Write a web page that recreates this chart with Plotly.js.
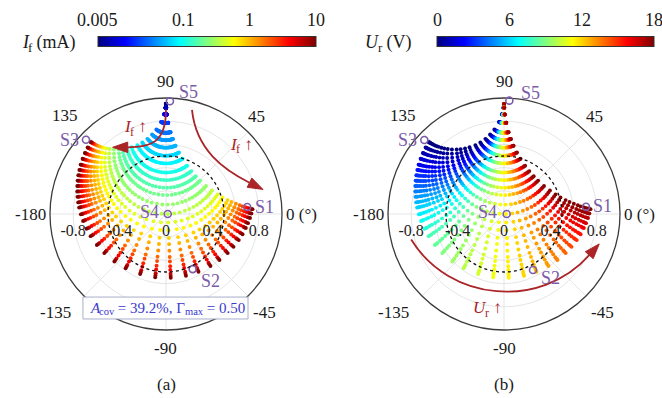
<!DOCTYPE html>
<html>
<head>
<meta charset="utf-8">
<script src="https://cdn.plot.ly/plotly-3.0.1.min.js"></script>
<style>
  html, body { margin: 0; padding: 0; background: #ffffff; }
  #chart { width: 662px; height: 398px; }
</style>
</head>
<body>
<div id="chart"></div>
<script>
// Bias states of the reconfigurable load
const ifLevels = [0.005, 0.008, 0.013, 0.02, 0.03, 0.04, 0.05, 0.065, 0.08, 0.1, 0.13, 0.16, 0.2, 0.26,
                  0.35, 0.46, 0.6, 0.8, 1, 1.35, 1.8, 2.3, 3, 4, 5.5, 7.5, 10];            // PIN forward current, mA
const urLevels = [0, 1, 2, 3, 4, 5, 6, 7, 8, 9, 10, 11, 12, 13, 14, 15, 16, 17, 18];      // varactor reverse voltage, V
const urHalfLevels = [0.5, 1.5, 2.5, 3.5, 4.5, 5.5, 6.5, 7.5, 8.5, 9.5, 10.5, 11.5, 12.5, 13.5, 14.5, 15.5, 16.5, 17.5];

// Reflection coefficient at whole-volt Ur, real part: one row per If level, one column per Ur
const gammaRe = [
  [-0.001,-0.001,-0.001,-0.001,-0.001,-0.001,-0.001,0,0,0,0,0,0,0,0,0,0,0,0.001],
  [-0.005,-0.004,-0.003,-0.003,-0.003,-0.002,-0.002,-0.002,-0.001,-0.001,-0.001,0,0,0.001,0.001,0.001,0.002,0.002,0.002],
  [-0.017,-0.015,-0.013,-0.011,-0.010,-0.009,-0.008,-0.007,-0.005,-0.004,-0.002,-0.001,0.001,0.003,0.004,0.005,0.006,0.007,0.008],
  [-0.043,-0.037,-0.032,-0.029,-0.026,-0.023,-0.020,-0.017,-0.014,-0.010,-0.006,-0.002,0.003,0.007,0.010,0.013,0.016,0.018,0.020],
  [-0.083,-0.073,-0.064,-0.057,-0.051,-0.046,-0.041,-0.035,-0.028,-0.021,-0.012,-0.003,0.006,0.014,0.021,0.026,0.032,0.036,0.040],
  [-0.120,-0.106,-0.094,-0.085,-0.076,-0.068,-0.061,-0.052,-0.042,-0.031,-0.019,-0.005,0.009,0.021,0.031,0.040,0.047,0.054,0.060],
  [-0.160,-0.144,-0.128,-0.116,-0.105,-0.094,-0.084,-0.072,-0.059,-0.044,-0.026,-0.007,0.012,0.029,0.044,0.056,0.066,0.075,0.083],
  [-0.204,-0.187,-0.169,-0.154,-0.140,-0.126,-0.114,-0.098,-0.080,-0.059,-0.036,-0.009,0.017,0.040,0.059,0.076,0.090,0.101,0.112],
  [-0.247,-0.229,-0.210,-0.193,-0.177,-0.160,-0.145,-0.126,-0.103,-0.077,-0.046,-0.012,0.022,0.051,0.077,0.097,0.115,0.130,0.143],
  [-0.297,-0.280,-0.260,-0.241,-0.222,-0.204,-0.185,-0.161,-0.134,-0.099,-0.060,-0.015,0.029,0.067,0.099,0.126,0.148,0.166,0.182],
  [-0.336,-0.322,-0.303,-0.283,-0.263,-0.242,-0.221,-0.194,-0.161,-0.121,-0.073,-0.019,0.035,0.082,0.121,0.152,0.179,0.200,0.218],
  [-0.374,-0.363,-0.345,-0.326,-0.305,-0.283,-0.260,-0.229,-0.192,-0.144,-0.088,-0.023,0.042,0.098,0.144,0.181,0.212,0.236,0.256],
  [-0.408,-0.401,-0.385,-0.367,-0.346,-0.322,-0.297,-0.264,-0.222,-0.168,-0.103,-0.027,0.050,0.114,0.168,0.210,0.245,0.271,0.294],
  [-0.449,-0.447,-0.436,-0.420,-0.399,-0.375,-0.349,-0.312,-0.265,-0.202,-0.124,-0.032,0.060,0.138,0.202,0.251,0.291,0.320,0.345],
  [-0.485,-0.490,-0.484,-0.470,-0.451,-0.428,-0.401,-0.361,-0.309,-0.237,-0.147,-0.038,0.071,0.163,0.237,0.294,0.338,0.370,0.396],
  [-0.515,-0.526,-0.525,-0.515,-0.498,-0.475,-0.448,-0.408,-0.351,-0.272,-0.169,-0.044,0.082,0.188,0.272,0.334,0.383,0.417,0.444],
  [-0.539,-0.556,-0.560,-0.553,-0.539,-0.518,-0.491,-0.450,-0.390,-0.304,-0.191,-0.050,0.093,0.211,0.304,0.372,0.424,0.459,0.487],
  [-0.562,-0.585,-0.594,-0.591,-0.580,-0.561,-0.535,-0.493,-0.431,-0.339,-0.214,-0.056,0.104,0.237,0.339,0.412,0.466,0.503,0.531],
  [-0.578,-0.605,-0.619,-0.619,-0.611,-0.594,-0.569,-0.528,-0.464,-0.367,-0.232,-0.061,0.114,0.257,0.367,0.444,0.500,0.537,0.565],
  [-0.595,-0.627,-0.645,-0.649,-0.643,-0.629,-0.606,-0.565,-0.500,-0.398,-0.254,-0.067,0.124,0.280,0.398,0.479,0.537,0.575,0.602],
  [-0.609,-0.645,-0.667,-0.676,-0.673,-0.661,-0.640,-0.600,-0.534,-0.428,-0.274,-0.073,0.135,0.303,0.428,0.513,0.572,0.609,0.636],
  [-0.618,-0.658,-0.683,-0.694,-0.694,-0.683,-0.664,-0.625,-0.559,-0.449,-0.289,-0.077,0.142,0.319,0.449,0.537,0.597,0.634,0.660],
  [-0.628,-0.670,-0.699,-0.712,-0.715,-0.707,-0.689,-0.651,-0.585,-0.473,-0.305,-0.081,0.151,0.337,0.473,0.562,0.623,0.660,0.685],
  [-0.635,-0.680,-0.711,-0.727,-0.731,-0.725,-0.708,-0.671,-0.605,-0.491,-0.319,-0.085,0.157,0.351,0.491,0.583,0.644,0.680,0.705],
  [-0.642,-0.690,-0.723,-0.741,-0.748,-0.744,-0.728,-0.693,-0.627,-0.511,-0.333,-0.089,0.165,0.366,0.511,0.604,0.666,0.702,0.725],
  [-0.646,-0.695,-0.730,-0.749,-0.757,-0.753,-0.739,-0.704,-0.638,-0.521,-0.340,-0.091,0.168,0.374,0.521,0.615,0.677,0.713,0.735],
  [-0.649,-0.699,-0.736,-0.756,-0.765,-0.763,-0.749,-0.715,-0.650,-0.532,-0.348,-0.093,0.172,0.383,0.532,0.627,0.688,0.724,0.746]
];

// Reflection coefficient at whole-volt Ur, imaginary part (same layout)
const gammaIm = [
  [0.948,0.948,0.948,0.948,0.948,0.948,0.948,0.948,0.948,0.948,0.948,0.948,0.948,0.948,0.948,0.948,0.948,0.948,0.948],
  [0.917,0.917,0.917,0.917,0.917,0.917,0.917,0.917,0.917,0.917,0.917,0.917,0.917,0.917,0.917,0.917,0.917,0.917,0.917],
  [0.860,0.859,0.859,0.859,0.858,0.858,0.858,0.858,0.858,0.858,0.858,0.858,0.858,0.858,0.858,0.858,0.858,0.858,0.858],
  [0.794,0.791,0.790,0.788,0.787,0.787,0.786,0.786,0.785,0.785,0.784,0.784,0.784,0.784,0.785,0.785,0.785,0.786,0.786],
  [0.728,0.721,0.716,0.712,0.710,0.708,0.706,0.704,0.703,0.702,0.701,0.700,0.700,0.701,0.702,0.703,0.704,0.705,0.706],
  [0.685,0.673,0.664,0.658,0.654,0.650,0.647,0.644,0.641,0.639,0.637,0.636,0.636,0.637,0.639,0.641,0.643,0.645,0.647],
  [0.648,0.631,0.617,0.608,0.601,0.595,0.590,0.585,0.580,0.576,0.573,0.572,0.572,0.574,0.576,0.579,0.583,0.586,0.589],
  [0.617,0.592,0.572,0.558,0.547,0.538,0.531,0.523,0.516,0.509,0.505,0.502,0.503,0.505,0.509,0.514,0.520,0.525,0.530],
  [0.594,0.561,0.535,0.516,0.501,0.488,0.477,0.466,0.456,0.447,0.440,0.436,0.436,0.441,0.447,0.454,0.461,0.469,0.476],
  [0.575,0.533,0.498,0.473,0.451,0.434,0.419,0.403,0.388,0.374,0.364,0.358,0.359,0.365,0.374,0.384,0.396,0.406,0.417],
  [0.565,0.515,0.473,0.441,0.415,0.392,0.373,0.352,0.333,0.314,0.300,0.293,0.294,0.302,0.314,0.328,0.343,0.356,0.370],
  [0.559,0.501,0.452,0.414,0.382,0.354,0.330,0.304,0.279,0.255,0.237,0.227,0.229,0.239,0.255,0.273,0.291,0.309,0.326],
  [0.556,0.492,0.436,0.393,0.354,0.321,0.292,0.260,0.229,0.200,0.176,0.164,0.166,0.180,0.200,0.222,0.245,0.267,0.288],
  [0.556,0.485,0.421,0.370,0.324,0.283,0.247,0.207,0.167,0.129,0.098,0.082,0.085,0.103,0.129,0.158,0.188,0.215,0.242],
  [0.560,0.483,0.411,0.353,0.299,0.251,0.208,0.159,0.110,0.061,0.023,0.002,0.005,0.028,0.061,0.098,0.135,0.169,0.202],
  [0.565,0.484,0.406,0.341,0.281,0.226,0.176,0.119,0.060,0.002,-0.046,-0.072,-0.067,-0.039,0.002,0.046,0.091,0.131,0.169],
  [0.571,0.486,0.404,0.334,0.268,0.207,0.151,0.086,0.018,-0.050,-0.107,-0.138,-0.132,-0.099,-0.050,0.002,0.054,0.100,0.143],
  [0.579,0.491,0.404,0.329,0.258,0.191,0.128,0.055,-0.022,-0.102,-0.168,-0.205,-0.199,-0.159,-0.102,-0.041,0.018,0.071,0.120],
  [0.584,0.495,0.405,0.327,0.252,0.180,0.113,0.033,-0.052,-0.141,-0.216,-0.258,-0.250,-0.205,-0.141,-0.073,-0.007,0.050,0.103],
  [0.591,0.500,0.407,0.326,0.247,0.171,0.098,0.011,-0.083,-0.182,-0.267,-0.315,-0.306,-0.254,-0.182,-0.107,-0.034,0.030,0.088],
  [0.598,0.505,0.410,0.327,0.243,0.163,0.086,-0.008,-0.110,-0.219,-0.314,-0.368,-0.358,-0.300,-0.219,-0.136,-0.056,0.012,0.075],
  [0.603,0.509,0.413,0.328,0.242,0.159,0.078,-0.021,-0.129,-0.246,-0.347,-0.406,-0.396,-0.332,-0.246,-0.156,-0.072,0.001,0.066],
  [0.608,0.514,0.416,0.329,0.241,0.155,0.070,-0.033,-0.148,-0.273,-0.382,-0.446,-0.435,-0.366,-0.273,-0.177,-0.087,-0.011,0.058],
  [0.612,0.518,0.419,0.330,0.241,0.152,0.065,-0.042,-0.162,-0.293,-0.410,-0.478,-0.466,-0.393,-0.293,-0.193,-0.098,-0.019,0.053],
  [0.616,0.522,0.422,0.332,0.241,0.150,0.060,-0.051,-0.177,-0.315,-0.439,-0.511,-0.498,-0.420,-0.315,-0.209,-0.110,-0.027,0.047],
  [0.618,0.524,0.424,0.333,0.241,0.149,0.058,-0.056,-0.184,-0.326,-0.453,-0.528,-0.515,-0.434,-0.326,-0.217,-0.116,-0.031,0.044],
  [0.620,0.526,0.426,0.334,0.241,0.148,0.055,-0.060,-0.191,-0.337,-0.468,-0.546,-0.532,-0.448,-0.337,-0.225,-0.121,-0.035,0.042]
];

// Reflection coefficient at half-volt Ur, real part: one row per Ur string, one value per If level
const halfRe = [
  [-0.001,-0.004,-0.016,-0.040,-0.078,-0.113,-0.151,-0.196,-0.239,-0.289,-0.330,-0.370,-0.405,-0.449,-0.489,-0.522,-0.549,-0.575,-0.594,-0.612,-0.629,-0.640,-0.651,-0.659,-0.668,-0.672,-0.676],
  [-0.001,-0.004,-0.014,-0.035,-0.068,-0.100,-0.136,-0.178,-0.220,-0.270,-0.313,-0.355,-0.394,-0.443,-0.488,-0.527,-0.559,-0.591,-0.614,-0.637,-0.658,-0.672,-0.687,-0.697,-0.708,-0.714,-0.719],
  [-0.001,-0.003,-0.012,-0.030,-0.061,-0.089,-0.122,-0.162,-0.202,-0.251,-0.293,-0.336,-0.376,-0.428,-0.478,-0.521,-0.558,-0.594,-0.620,-0.648,-0.673,-0.690,-0.707,-0.720,-0.734,-0.741,-0.747],
  [-0.001,-0.003,-0.011,-0.027,-0.054,-0.080,-0.110,-0.147,-0.185,-0.232,-0.273,-0.316,-0.357,-0.410,-0.461,-0.507,-0.547,-0.587,-0.616,-0.648,-0.676,-0.695,-0.715,-0.731,-0.746,-0.754,-0.762],
  [-0.001,-0.003,-0.009,-0.024,-0.048,-0.072,-0.099,-0.133,-0.168,-0.213,-0.253,-0.294,-0.334,-0.387,-0.440,-0.487,-0.529,-0.571,-0.603,-0.637,-0.668,-0.690,-0.712,-0.729,-0.747,-0.756,-0.765],
  [-0.001,-0.002,-0.008,-0.021,-0.043,-0.064,-0.089,-0.120,-0.152,-0.194,-0.231,-0.271,-0.310,-0.362,-0.414,-0.462,-0.505,-0.549,-0.582,-0.618,-0.651,-0.675,-0.699,-0.718,-0.737,-0.747,-0.757],
  [-0.001,-0.002,-0.007,-0.019,-0.038,-0.056,-0.078,-0.106,-0.135,-0.173,-0.207,-0.244,-0.281,-0.331,-0.381,-0.428,-0.471,-0.515,-0.549,-0.587,-0.621,-0.646,-0.671,-0.692,-0.713,-0.723,-0.734],
  [0,-0.002,-0.006,-0.015,-0.031,-0.047,-0.066,-0.089,-0.114,-0.147,-0.177,-0.210,-0.243,-0.289,-0.335,-0.380,-0.421,-0.463,-0.497,-0.534,-0.569,-0.593,-0.620,-0.641,-0.662,-0.674,-0.685],
  [0,-0.001,-0.005,-0.012,-0.024,-0.036,-0.051,-0.070,-0.090,-0.116,-0.141,-0.168,-0.195,-0.234,-0.274,-0.313,-0.349,-0.387,-0.418,-0.452,-0.484,-0.507,-0.532,-0.552,-0.573,-0.584,-0.596],
  [0,-0.001,-0.003,-0.008,-0.016,-0.025,-0.035,-0.047,-0.061,-0.080,-0.097,-0.116,-0.136,-0.163,-0.193,-0.222,-0.249,-0.278,-0.302,-0.328,-0.354,-0.373,-0.393,-0.409,-0.427,-0.436,-0.445],
  [0,0,-0.001,-0.004,-0.008,-0.011,-0.016,-0.022,-0.029,-0.038,-0.046,-0.055,-0.065,-0.078,-0.093,-0.107,-0.121,-0.136,-0.148,-0.161,-0.175,-0.185,-0.196,-0.204,-0.213,-0.218,-0.223],
  [0,0,0,0.001,0.001,0.002,0.003,0.004,0.005,0.007,0.008,0.010,0.012,0.014,0.017,0.019,0.022,0.025,0.027,0.029,0.032,0.034,0.036,0.037,0.039,0.040,0.041],
  [0,0,0.002,0.005,0.010,0.015,0.021,0.028,0.037,0.048,0.058,0.070,0.082,0.099,0.117,0.135,0.152,0.171,0.186,0.203,0.220,0.233,0.246,0.257,0.268,0.274,0.280],
  [0,0.001,0.003,0.008,0.017,0.026,0.036,0.049,0.064,0.083,0.101,0.121,0.141,0.170,0.201,0.230,0.259,0.289,0.313,0.341,0.367,0.386,0.407,0.424,0.442,0.451,0.461],
  [0,0.001,0.005,0.012,0.023,0.035,0.049,0.067,0.087,0.113,0.136,0.163,0.189,0.227,0.266,0.304,0.339,0.376,0.406,0.440,0.472,0.495,0.520,0.539,0.560,0.571,0.582],
  [0,0.001,0.006,0.014,0.029,0.043,0.061,0.083,0.106,0.137,0.166,0.197,0.228,0.271,0.316,0.359,0.399,0.440,0.473,0.510,0.544,0.569,0.595,0.615,0.637,0.648,0.660],
  [0,0.002,0.007,0.017,0.034,0.050,0.071,0.096,0.122,0.157,0.189,0.224,0.258,0.306,0.354,0.400,0.442,0.485,0.519,0.557,0.592,0.616,0.643,0.663,0.685,0.696,0.707],
  [0.001,0.002,0.007,0.019,0.038,0.057,0.079,0.107,0.136,0.174,0.209,0.246,0.283,0.333,0.383,0.431,0.474,0.518,0.552,0.589,0.623,0.648,0.673,0.694,0.714,0.725,0.736]
];

// Reflection coefficient at half-volt Ur, imaginary part (same layout)
const halfIm = [
  [0.948,0.917,0.860,0.793,0.724,0.678,0.639,0.604,0.577,0.553,0.539,0.529,0.523,0.520,0.521,0.524,0.529,0.535,0.540,0.546,0.552,0.556,0.561,0.565,0.569,0.572,0.574],
  [0.948,0.917,0.859,0.790,0.718,0.668,0.623,0.581,0.547,0.515,0.493,0.476,0.463,0.452,0.446,0.444,0.444,0.447,0.450,0.454,0.458,0.462,0.466,0.469,0.472,0.474,0.476],
  [0.948,0.917,0.859,0.789,0.714,0.661,0.612,0.565,0.525,0.485,0.456,0.432,0.414,0.394,0.381,0.373,0.368,0.366,0.366,0.367,0.368,0.370,0.373,0.375,0.377,0.379,0.380],
  [0.948,0.917,0.858,0.788,0.711,0.656,0.604,0.552,0.508,0.461,0.427,0.397,0.373,0.346,0.325,0.310,0.300,0.293,0.289,0.286,0.285,0.284,0.285,0.285,0.286,0.287,0.288],
  [0.948,0.917,0.858,0.787,0.709,0.652,0.597,0.542,0.494,0.442,0.403,0.367,0.337,0.303,0.274,0.253,0.237,0.224,0.216,0.208,0.203,0.200,0.198,0.196,0.195,0.195,0.194],
  [0.948,0.917,0.858,0.786,0.707,0.649,0.592,0.534,0.482,0.426,0.382,0.341,0.305,0.264,0.228,0.200,0.178,0.158,0.145,0.133,0.123,0.117,0.111,0.107,0.104,0.102,0.100],
  [0.948,0.917,0.858,0.786,0.705,0.646,0.587,0.527,0.471,0.410,0.362,0.316,0.275,0.226,0.182,0.146,0.117,0.091,0.072,0.053,0.038,0.028,0.018,0.011,0.004,0.000,-0.003],
  [0.948,0.917,0.858,0.785,0.704,0.643,0.582,0.519,0.461,0.395,0.342,0.290,0.244,0.186,0.133,0.088,0.050,0.014,-0.011,-0.038,-0.061,-0.077,-0.092,-0.104,-0.116,-0.122,-0.127],
  [0.948,0.917,0.858,0.785,0.702,0.640,0.578,0.512,0.451,0.380,0.322,0.266,0.213,0.146,0.084,0.029,-0.018,-0.065,-0.099,-0.136,-0.168,-0.190,-0.213,-0.231,-0.249,-0.258,-0.267],
  [0.948,0.917,0.858,0.784,0.701,0.638,0.575,0.507,0.443,0.368,0.306,0.244,0.186,0.112,0.040,-0.025,-0.082,-0.139,-0.182,-0.229,-0.272,-0.302,-0.333,-0.358,-0.383,-0.396,-0.409],
  [0.948,0.917,0.858,0.784,0.700,0.637,0.572,0.503,0.437,0.360,0.295,0.230,0.168,0.088,0.009,-0.063,-0.127,-0.192,-0.243,-0.298,-0.349,-0.385,-0.424,-0.454,-0.485,-0.502,-0.518],
  [0.948,0.917,0.858,0.784,0.700,0.636,0.572,0.502,0.436,0.358,0.292,0.226,0.163,0.081,0.000,-0.073,-0.140,-0.207,-0.260,-0.317,-0.371,-0.409,-0.450,-0.482,-0.515,-0.533,-0.550],
  [0.948,0.917,0.858,0.784,0.700,0.637,0.573,0.504,0.438,0.361,0.297,0.233,0.172,0.092,0.014,-0.056,-0.119,-0.183,-0.232,-0.285,-0.335,-0.370,-0.407,-0.436,-0.466,-0.482,-0.498],
  [0.948,0.917,0.858,0.784,0.701,0.638,0.575,0.507,0.443,0.369,0.307,0.246,0.188,0.114,0.043,-0.021,-0.077,-0.133,-0.176,-0.222,-0.263,-0.293,-0.324,-0.347,-0.372,-0.385,-0.397],
  [0.948,0.917,0.858,0.785,0.702,0.640,0.578,0.512,0.450,0.379,0.321,0.263,0.210,0.142,0.078,0.023,-0.026,-0.073,-0.109,-0.146,-0.180,-0.203,-0.227,-0.245,-0.264,-0.273,-0.283],
  [0.948,0.917,0.858,0.785,0.703,0.642,0.581,0.517,0.457,0.390,0.335,0.282,0.233,0.172,0.116,0.068,0.027,-0.012,-0.041,-0.071,-0.097,-0.115,-0.133,-0.146,-0.160,-0.167,-0.174],
  [0.948,0.917,0.858,0.785,0.704,0.644,0.584,0.522,0.465,0.400,0.349,0.300,0.255,0.201,0.151,0.110,0.076,0.044,0.020,-0.003,-0.023,-0.036,-0.050,-0.059,-0.069,-0.074,-0.079],
  [0.948,0.917,0.858,0.786,0.705,0.646,0.588,0.527,0.472,0.411,0.363,0.317,0.277,0.228,0.185,0.150,0.121,0.095,0.076,0.058,0.043,0.033,0.024,0.017,0.010,0.007,0.004]
];

// Marked states S1..S5 (real, imaginary) in each panel
const stateNames = ['S1', 'S2', 'S3', 'S4', 'S5'];
const stateReA = [0.70, 0.23, -0.69, 0.015, 0.034];
const stateImA = [0.06, -0.475, 0.64, 0.0, 0.972];
const stateReB = [0.707, 0.25, -0.687, 0.023, 0.046];
const stateImB = [0.063, -0.483, 0.638, 0.0, 0.977];

// Colour bar ticks
const ifTicks = [0.005, 0.1, 1, 10];
const ifTickText = ['0.005', '0.1', '1', '10'];
const urTicks = [0, 6, 12, 18];
const urTickText = ['0', '6', '12', '18'];

// Radial tick labels along the horizontal diameter
const radTicks = [-0.8, -0.4, 0, 0.4, 0.8];
const radTickText = ['-0.8', '-0.4', '0', '0.4', '0.8'];

// Angle labels round the rim
const angText = ['90', '45', '0 (°)', '-45', '-90', '-135', '-180', '135'];

// ---------------------------------------------------------------------------
const W = 662, H = 398;
const PX = 116;              // pixels per unit of |Γ|
const CY = 214;              // centre row of both polar frames
const CX = [166, 504];       // centre columns of the two frames
const XR = 1.35, YR = 1.3;   // half-ranges of the frames
const SERIF = 'Liberation Serif, Times New Roman, serif';
const PURPLE = '#7b5ca8';
const ARROW = 'rgb(170,36,40)';
const INK = '#1a1a1a';

const jet = [
  [0, 'rgb(0,0,128)'], [0.125, 'rgb(0,0,255)'], [0.375, 'rgb(0,255,255)'],
  [0.625, 'rgb(255,255,0)'], [0.875, 'rgb(255,0,0)'], [1, 'rgb(128,0,0)']
];

// flatten the bias grid; higher currents are drawn last
const xs = [], ys = [], cIf = [], cUr = [];
function addPoint(re, im, iv, uv) {
  xs.push(re); ys.push(im); cIf.push(Math.log10(iv)); cUr.push(uv);
}
ifLevels.forEach((iv, i) => {
  urLevels.forEach((uv, j) => addPoint(gammaRe[i][j], gammaIm[i][j], iv, uv));
  urHalfLevels.forEach((uv, k) => addPoint(halfRe[k][i], halfIm[k][i], iv, uv));
});

const ifMin = Math.log10(ifLevels[0]), ifMax = Math.log10(ifLevels[ifLevels.length - 1]);
const urMin = urLevels[0], urMax = urLevels[urLevels.length - 1];

// colour bar geometry (pixels); its labels are placed as annotations above the bar
const cbA = { x0: 98, x1: 316 };
const cbB = { x0: 437, x1: 654 };
const cbY = 42;

function colorbar(cb) {
  return {
    orientation: 'h', lenmode: 'pixels', len: cb.x1 - cb.x0, thickness: 10,
    x: (cb.x0 + cb.x1) / 2 / W, xanchor: 'center', xpad: 0, ypad: 0,
    y: (H - cbY) / H, yanchor: 'middle',
    tickmode: 'linear', tick0: 500000.5, dtick: 1000000, showticklabels: false, ticks: '',
    outlinewidth: 1, outlinecolor: '#333'
  };
}

const MS = 3.9;
const traces = [
  {
    type: 'scatter', mode: 'markers', x: xs, y: ys, xaxis: 'x', yaxis: 'y', hoverinfo: 'skip',
    marker: { size: MS, color: cIf, colorscale: jet, cmin: ifMin, cmax: ifMax, line: { width: 0 },
              showscale: true, colorbar: colorbar(cbA) }
  },
  {
    type: 'scatter', mode: 'markers', x: xs, y: ys, xaxis: 'x2', yaxis: 'y2', hoverinfo: 'skip',
    marker: { size: MS, color: cUr, colorscale: jet, cmin: urMin, cmax: urMax, line: { width: 0 },
              showscale: true, colorbar: colorbar(cbB) }
  },
  {
    type: 'scatter', mode: 'markers', x: stateReA, y: stateImA, xaxis: 'x', yaxis: 'y', hoverinfo: 'skip',
    marker: { symbol: 'circle-open', size: 7, color: PURPLE, line: { width: 1.6, color: PURPLE } }
  },
  {
    type: 'scatter', mode: 'markers', x: stateReB, y: stateImB, xaxis: 'x2', yaxis: 'y2', hoverinfo: 'skip',
    marker: { symbol: 'circle-open', size: 7, color: PURPLE, line: { width: 1.6, color: PURPLE } }
  }
];

function xAxis(cx) {
  return {
    domain: [(cx - XR * PX) / W, (cx + XR * PX) / W], range: [-XR, XR],
    anchor: 'free', position: (H - CY) / H,
    showgrid: false, zeroline: false, showline: false,
    tickmode: 'array', tickvals: radTicks, ticktext: radTickText,
    ticks: 'outside', ticklen: 2, tickcolor: 'rgba(0,0,0,0)',
    tickfont: { family: SERIF, size: 16, color: '#222' }, fixedrange: true
  };
}
function yAxis() {
  return {
    domain: [(H - CY - YR * PX) / H, (H - CY + YR * PX) / H], range: [-YR, YR],
    visible: false, fixedrange: true
  };
}

// polar grid, rim and the Γ = 0.5 circle
function frameShapes(xref, yref) {
  const s = [];
  [0.2, 0.4, 0.6, 0.8].forEach(r => s.push({
    type: 'circle', xref, yref, x0: -r, y0: -r, x1: r, y1: r,
    line: { color: '#dedede', width: 0.8 }, layer: 'below'
  }));
  for (let a = 0; a < 360; a += 45) {
    const t = a * Math.PI / 180;
    s.push({ type: 'line', xref, yref, x0: 0, y0: 0, x1: Math.cos(t), y1: Math.sin(t),
             line: { color: '#dedede', width: 0.8 }, layer: 'below' });
  }
  s.push({ type: 'circle', xref, yref, x0: -1, y0: -1, x1: 1, y1: 1,
           line: { color: '#3c3c3c', width: 1.3 }, layer: 'below' });
  s.push({ type: 'circle', xref, yref, x0: -0.5, y0: -0.5, x1: 0.5, y1: 0.5,
           line: { color: '#111', width: 1.3, dash: 'dot' }, layer: 'above' });
  return s;
}
function curve(xref, yref, d) {
  return { type: 'path', xref, yref, path: d, line: { color: ARROW, width: 1.8 }, layer: 'above' };
}
function head(xref, yref, tip, b1, b2) {
  return { type: 'path', xref, yref, path: `M${tip[0]},${tip[1]} L${b1[0]},${b1[1]} L${b2[0]},${b2[1]} Z`,
           fillcolor: ARROW, line: { color: ARROW, width: 1 }, layer: 'above' };
}

const shapes = [
  ...frameShapes('x', 'y'),
  ...frameShapes('x2', 'y2'),
  curve('x', 'y', 'M0,0.9 C0,0.62 -0.12,0.575 -0.34,0.575'),
  head('x', 'y', [-0.46, 0.575], [-0.33, 0.62], [-0.33, 0.53]),
  curve('x', 'y', 'M0.224,0.897 C0.26,0.55 0.5,0.38 0.72,0.27'),
  head('x', 'y', [0.836, 0.212], [0.74, 0.31], [0.70, 0.23]),
  curve('x2', 'y2', 'M-0.80,-0.22 C-0.471,-0.757 0.317,-0.826 0.735,-0.355'),
  head('x2', 'y2', [0.821, -0.258], [0.701, -0.325], [0.769, -0.385]),
  // frame of the coverage note
  { type: 'rect', xref: 'x', yref: 'y', x0: -0.716, x1: 0.707, y0: -0.905, y1: -0.716,
    fillcolor: 'rgba(255,255,255,0.96)', line: { color: '#a9aec8', width: 1 }, layer: 'above' }
];

// text
const angPos = [[0, 1.145, 'center'], [0.78, 0.84, 'center'], [1.02, 0, 'left'], [0.85, -0.85, 'center'],
                [0, -1.16, 'center'], [-0.955, -0.85, 'center'], [-1.02, 0, 'right'], [-0.87, 0.85, 'center']];
const labPosA = [[0.85, 0.06], [0.38, -0.58], [-0.83, 0.64], [-0.14, 0.015], [0.19, 1.05]];
const labPosB = [[0.85, 0.07], [0.40, -0.55], [-0.83, 0.64], [-0.14, 0.015], [0.23, 1.045]];

const ann = [];
function txt(xref, yref, x, y, text, size, color, xanchor) {
  ann.push({ xref, yref, x, y, text, showarrow: false, xanchor: xanchor || 'center', yanchor: 'middle',
             font: { family: SERIF, size, color } });
}

// labels with subscripts: pieces laid side by side, subscripts smaller and lowered
const meter = document.createElement('canvas').getContext('2d');
function textWidth(t, size, italic) {
  meter.font = (italic ? 'italic ' : '') + size + 'px "Liberation Serif"';
  return meter.measureText(t).width;
}
function rich(xref, yref, x, y, pieces, color) {
  const w = pieces.map(p => textWidth(p[0], p[1], p[2]));
  let off = -w.reduce((a, b) => a + b, 0) / 2;
  pieces.forEach((p, i) => {
    ann.push({ xref, yref, x, y, text: p[2] ? '<i>' + p[0] + '</i>' : p[0], showarrow: false,
               xanchor: 'left', yanchor: 'middle', xshift: off, yshift: -(p[3] || 0),
               font: { family: SERIF, size: p[1], color } });
    off += w[i];
  });
}

[['x', 'y', labPosA], ['x2', 'y2', labPosB]].forEach(([xr, yr, lp]) => {
  angText.forEach((t, k) => txt(xr, yr, angPos[k][0], angPos[k][1], t, 17, INK, angPos[k][2]));
  stateNames.forEach((t, k) => txt(xr, yr, lp[k][0], lp[k][1], t, 18, PURPLE));
});
rich('x', 'y', -0.28, 0.75, [['I', 17, true], ['f', 12, false, 5], ['\u00a0↑', 17, false]], ARROW);
rich('x', 'y', 0.63, 0.60, [['I', 17, true], ['f', 12, false, 5], ['\u00a0↑', 17, false]], ARROW);
rich('x2', 'y2', -0.16, -0.81, [['U', 17, true], ['r', 12, false, 5], ['\u00a0↑', 17, false]], ARROW);

rich('x', 'y', -0.005, -0.81, [
  ['A', 15, true], ['cov', 10.5, false, 4], ['\u00a0= 39.2%, Γ', 15, false],
  ['max', 10.5, false, 4], ['\u00a0= 0.50', 15, false]
], 'rgb(58,58,205)');

// panel captions
txt('paper', 'paper', CX[0] / W, (H - 384) / H, '(a)', 17, INK);
txt('paper', 'paper', CX[1] / W, (H - 384) / H, '(b)', 17, INK);

// colour bar titles and tick labels
rich('paper', 'paper', 47 / W, (H - cbY) / H, [['I', 18, true], ['f', 13, false, 5], ['\u00a0(mA)', 18, false]], INK);
rich('paper', 'paper', 386 / W, (H - cbY) / H, [['U', 18, true], ['r', 13, false, 5], ['\u00a0(V)', 18, false]], INK);
ifTicks.forEach((v, k) => {
  const px = cbA.x0 + (Math.log10(v) - ifMin) / (ifMax - ifMin) * (cbA.x1 - cbA.x0);
  txt('paper', 'paper', px / W, (H - 20) / H, ifTickText[k], 18, INK);
});
urTicks.forEach((v, k) => {
  const px = cbB.x0 + (v - urMin) / (urMax - urMin) * (cbB.x1 - cbB.x0);
  txt('paper', 'paper', px / W, (H - 20) / H, urTickText[k], 18, INK);
});

const layout = {
  width: W, height: H, margin: { l: 0, r: 0, t: 0, b: 0 },
  font: { family: SERIF, size: 15, color: INK },
  paper_bgcolor: '#ffffff', plot_bgcolor: 'rgba(0,0,0,0)', showlegend: false,
  xaxis: xAxis(CX[0]), yaxis: yAxis(),
  xaxis2: xAxis(CX[1]), yaxis2: yAxis(),
  shapes, annotations: ann
};

Plotly.newPlot('chart', traces, layout, { staticPlot: true, displayModeBar: false });
</script>
</body>
</html>
